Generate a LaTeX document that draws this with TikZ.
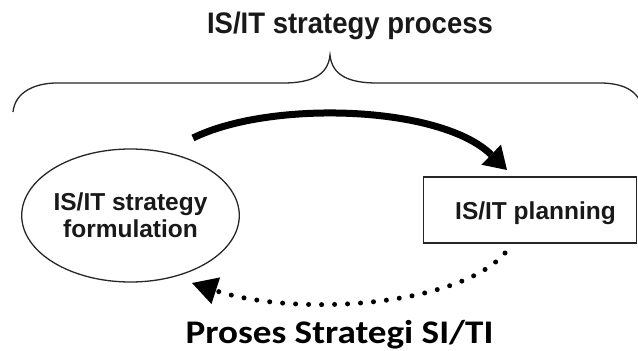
\documentclass[tikz,border=0pt]{standalone}
\usepackage{fontspec}
\setmainfont{Liberation Sans}
\newfontfamily\carl{Carlito}
\usetikzlibrary{arrows.meta,shapes.geometric}
\begin{document}
\begin{tikzpicture}[x=1pt,y=-1pt,
  thinline/.style={draw=black!85, line width=1.3pt},
  lbl/.style={font=\fontsize{24.5}{27}\selectfont\bfseries, text=black!90}]
\path[use as bounding box] (0,0) rectangle (638,351);
% title and brace
\node[font=\fontsize{27.5}{30}\selectfont\bfseries, anchor=base, text=black!90, yscale=1.08] (title) at (350,33) {IS/IT strategy process};
\draw[thinline] (13,112) .. controls (15,92) and (35,83) .. (57,83) -- (283,83)
  .. controls (310,83) and (328,76) .. (330,55)
  .. controls (332,76) and (350,83) .. (377,83) -- (600,83)
  .. controls (625,83) and (641,92) .. (643,112);
% nodes
\node[thinline, ellipse, minimum width=215pt, minimum height=133pt, inner sep=0pt, align=center, lbl] (form) at (130.5,215.5) {IS/IT strategy\\formulation};
\node[thinline, rectangle, minimum width=213.5pt, minimum height=66pt, inner sep=0pt] (plan) at (530,210) {};
\node[lbl, anchor=base] (plantext) at (535.5,219.5) {IS/IT planning};
% arrows
\coordinate (a1s) at (193,138);
\coordinate (a1e) at (507,170);
\draw[line width=7pt, -{Triangle[length=22pt,width=28pt,line width=0pt]}] (a1s) .. controls (270,100) and (440,105) .. (a1e);
\coordinate (d1s) at (505,253);
\coordinate (d1e) at (192,283);
\draw[line width=5pt, line cap=round, dash pattern=on 0pt off 13pt, -{Triangle[length=25pt,width=28pt,line width=0pt]}] (d1s) .. controls (460,305) and (300,318) .. (d1e);
% caption
\node[font=\carl\bfseries\fontsize{33}{36}\selectfont, anchor=base, xscale=1.125] (cap) at (339.5,343) {Proses Strategi SI/TI};
\end{tikzpicture}
\end{document}
